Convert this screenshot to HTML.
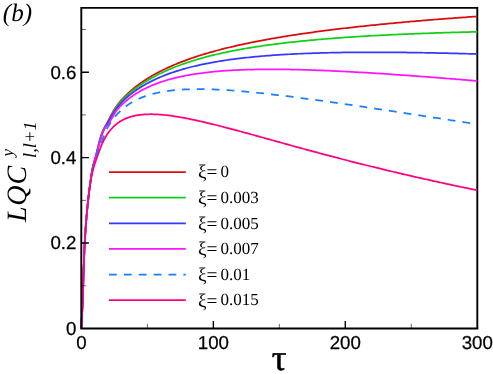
<!DOCTYPE html>
<html><head><meta charset="utf-8"><title>chart</title>
<style>html,body{margin:0;padding:0;background:#fff;}svg{display:block;will-change:transform;}text{text-rendering:geometricPrecision;}</style>
</head><body>
<svg width="493" height="374" viewBox="0 0 493 374">
<rect width="493" height="374" fill="#fff"/>
<path d="M81.3,7.9 H477.3 V328.5" fill="none" stroke="#000" stroke-width="1.9" stroke-linejoin="miter"/>
<g fill="none" stroke-width="1.75" stroke-linejoin="round">
<path d="M81.40,328.50 L81.56,323.72 L81.73,320.11 L81.89,316.98 L82.06,313.94 L82.22,310.77 L82.39,307.32 L82.55,303.54 L82.72,299.38 L82.88,294.83 L83.05,289.89 L83.21,284.57 L83.38,278.96 L83.54,273.31 L83.71,267.87 L83.87,262.81 L84.04,258.23 L84.20,254.10 L84.37,250.33 L84.53,246.87 L84.70,243.65 L84.86,240.62 L85.03,237.76 L85.19,235.05 L85.36,232.45 L85.52,229.98 L85.69,227.61 L85.85,225.34 L86.02,223.15 L86.18,221.04 L86.35,219.01 L86.51,217.05 L86.68,215.15 L86.84,213.30 L87.01,211.51 L87.17,209.77 L87.34,208.08 L87.50,206.42 L87.67,204.81 L87.83,203.24 L88.00,201.70 L88.16,200.19 L88.33,198.71 L88.49,197.26 L88.66,195.84 L88.82,194.44 L88.99,193.06 L89.15,191.71 L89.32,190.38 L89.48,189.07 L89.65,187.77 L89.81,186.50 L89.98,185.24 L90.14,183.99 L90.31,182.76 L90.47,181.55 L90.64,180.35 L90.80,179.16 L90.97,177.99 L91.13,176.84 L91.30,175.71 L91.46,174.63 L91.63,173.58 L91.79,172.57 L91.96,171.61 L92.12,170.69 L92.29,169.83 L92.45,169.02 L92.62,168.25 L92.78,167.53 L92.95,166.84 L93.11,166.17 L93.28,165.54 L93.44,164.92 L93.61,164.32 L93.77,163.74 L93.94,163.17 L94.10,162.61 L94.27,162.05 L94.43,161.50 L94.59,160.94 L95.25,158.68 L95.91,156.26 L96.57,153.60 L97.23,150.72 L97.89,147.79 L98.55,144.92 L99.21,142.22 L99.87,139.74 L100.53,137.47 L101.19,135.39 L101.85,133.50 L102.51,131.78 L103.17,130.23 L103.83,128.83 L104.49,127.57 L105.15,126.40 L105.81,125.26 L106.47,124.09 L107.13,122.87 L107.79,121.62 L108.45,120.35 L109.11,119.07 L109.77,117.80 L110.43,116.53 L111.09,115.27 L111.75,114.04 L112.41,112.84 L113.07,111.67 L113.73,110.55 L114.39,109.46 L115.05,108.42 L115.71,107.41 L116.37,106.45 L117.03,105.52 L117.69,104.62 L118.35,103.76 L119.01,102.92 L119.67,102.11 L120.33,101.32 L120.98,100.55 L121.64,99.80 L122.30,99.07 L122.96,98.36 L123.62,97.67 L124.28,96.98 L124.94,96.32 L125.60,95.66 L126.26,95.02 L126.92,94.39 L127.58,93.76 L128.24,93.15 L128.90,92.55 L129.56,91.95 L130.22,91.37 L130.88,90.79 L131.54,90.22 L132.20,89.66 L132.86,89.11 L133.52,88.57 L134.18,88.03 L134.84,87.50 L135.50,86.98 L136.16,86.46 L136.82,85.96 L137.48,85.45 L138.14,84.96 L138.80,84.47 L139.46,83.99 L140.12,83.51 L140.78,83.04 L141.44,82.58 L142.10,82.12 L142.76,81.67 L143.42,81.22 L144.08,80.78 L144.74,80.34 L145.40,79.91 L146.06,79.48 L146.72,79.06 L147.38,78.65 L148.03,78.23 L148.69,77.83 L149.35,77.42 L150.01,77.02 L150.67,76.63 L151.33,76.24 L151.99,75.85 L152.65,75.47 L153.31,75.10 L153.97,74.72 L154.63,74.35 L155.29,73.99 L155.95,73.62 L156.61,73.27 L157.27,72.91 L157.93,72.56 L158.59,72.21 L159.25,71.87 L159.91,71.53 L160.57,71.19 L162.55,70.19 L164.53,69.23 L166.51,68.29 L168.49,67.37 L170.47,66.48 L172.45,65.61 L174.42,64.77 L176.40,63.94 L178.38,63.14 L180.36,62.35 L182.34,61.59 L184.32,60.84 L186.30,60.10 L188.28,59.39 L190.26,58.69 L192.24,58.00 L194.22,57.33 L196.20,56.67 L198.18,56.03 L200.16,55.40 L202.13,54.78 L204.11,54.18 L206.09,53.58 L208.07,53.00 L210.05,52.43 L212.03,51.87 L214.01,51.32 L215.99,50.78 L217.97,50.25 L219.95,49.73 L221.93,49.21 L223.91,48.71 L225.89,48.22 L227.86,47.73 L229.84,47.25 L231.82,46.78 L233.80,46.32 L235.78,45.86 L237.76,45.41 L239.74,44.97 L241.72,44.54 L243.70,44.11 L245.68,43.69 L247.66,43.27 L249.64,42.86 L251.62,42.46 L253.59,42.06 L255.57,41.67 L257.55,41.28 L259.53,40.90 L261.51,40.53 L263.49,40.15 L265.47,39.79 L267.45,39.43 L269.43,39.07 L271.41,38.72 L273.39,38.37 L275.37,38.03 L277.35,37.69 L279.32,37.36 L281.30,37.03 L283.28,36.71 L285.26,36.38 L287.24,36.07 L289.22,35.75 L291.20,35.44 L293.18,35.14 L295.16,34.83 L297.14,34.53 L299.12,34.24 L301.10,33.95 L303.08,33.66 L305.06,33.37 L307.03,33.09 L309.01,32.81 L310.99,32.53 L312.97,32.26 L314.95,31.99 L316.93,31.72 L318.91,31.46 L320.89,31.19 L322.87,30.93 L324.85,30.68 L326.83,30.42 L328.81,30.17 L330.79,29.92 L332.76,29.68 L334.74,29.43 L336.72,29.19 L338.70,28.95 L340.68,28.72 L342.66,28.48 L344.64,28.25 L346.62,28.02 L348.60,27.79 L350.58,27.57 L352.56,27.34 L354.54,27.12 L356.52,26.90 L358.50,26.69 L360.47,26.47 L362.45,26.26 L364.43,26.04 L366.41,25.83 L368.39,25.63 L370.37,25.42 L372.35,25.22 L374.33,25.01 L376.31,24.81 L378.29,24.62 L380.27,24.42 L382.25,24.22 L384.23,24.03 L386.20,23.84 L388.18,23.65 L390.16,23.46 L392.14,23.27 L394.12,23.08 L396.10,22.90 L398.08,22.72 L400.06,22.53 L402.04,22.35 L404.02,22.18 L406.00,22.00 L407.98,21.82 L409.96,21.65 L411.93,21.48 L413.91,21.30 L415.89,21.13 L417.87,20.96 L419.85,20.80 L421.83,20.63 L423.81,20.46 L425.79,20.30 L427.77,20.14 L429.75,19.98 L431.73,19.82 L433.71,19.66 L435.69,19.50 L437.66,19.34 L439.64,19.19 L441.62,19.03 L443.60,18.88 L445.58,18.72 L447.56,18.57 L449.54,18.42 L451.52,18.27 L453.50,18.12 L455.48,17.98 L457.46,17.83 L459.44,17.69 L461.42,17.54 L463.40,17.40 L465.37,17.26 L467.35,17.11 L469.33,16.97 L471.31,16.84 L473.29,16.70 L475.27,16.56 L477.25,16.42" stroke="#d80c0c"/>
<path d="M81.40,328.50 L81.56,323.70 L81.73,320.08 L81.89,316.96 L82.06,313.93 L82.22,310.76 L82.39,307.33 L82.55,303.56 L82.72,299.40 L82.88,294.86 L83.05,289.92 L83.21,284.60 L83.38,278.97 L83.54,273.32 L83.71,267.87 L83.87,262.79 L84.04,258.21 L84.20,254.06 L84.37,250.29 L84.53,246.81 L84.70,243.59 L84.86,240.57 L85.03,237.71 L85.19,235.00 L85.36,232.41 L85.52,229.95 L85.69,227.59 L85.85,225.32 L86.02,223.15 L86.18,221.05 L86.35,219.03 L86.51,217.08 L86.68,215.19 L86.84,213.36 L87.01,211.57 L87.17,209.84 L87.34,208.15 L87.50,206.51 L87.67,204.90 L87.83,203.33 L88.00,201.79 L88.16,200.29 L88.33,198.81 L88.49,197.36 L88.66,195.93 L88.82,194.53 L88.99,193.15 L89.15,191.80 L89.32,190.46 L89.48,189.14 L89.65,187.83 L89.81,186.55 L89.98,185.28 L90.14,184.02 L90.31,182.78 L90.47,181.55 L90.64,180.33 L90.80,179.12 L90.97,177.93 L91.13,176.77 L91.30,175.63 L91.46,174.52 L91.63,173.46 L91.79,172.44 L91.96,171.47 L92.12,170.54 L92.29,169.68 L92.45,168.87 L92.62,168.10 L92.78,167.38 L92.95,166.69 L93.11,166.04 L93.28,165.41 L93.44,164.81 L93.61,164.23 L93.77,163.66 L93.94,163.11 L94.10,162.56 L94.27,162.02 L94.43,161.49 L94.59,160.95 L95.25,158.77 L95.91,156.44 L96.57,153.86 L97.23,151.06 L97.89,148.16 L98.55,145.28 L99.21,142.51 L99.87,139.92 L100.53,137.51 L101.19,135.32 L101.85,133.33 L102.51,131.57 L103.17,130.04 L103.83,128.73 L104.49,127.66 L105.15,126.75 L105.81,125.90 L106.47,125.01 L107.13,124.00 L107.79,122.90 L108.45,121.71 L109.11,120.47 L109.77,119.19 L110.43,117.89 L111.09,116.59 L111.75,115.29 L112.41,114.02 L113.07,112.77 L113.73,111.56 L114.39,110.40 L115.05,109.30 L115.71,108.24 L116.37,107.25 L117.03,106.29 L117.69,105.38 L118.35,104.51 L119.01,103.68 L119.67,102.87 L120.33,102.10 L120.98,101.36 L121.64,100.64 L122.30,99.94 L122.96,99.26 L123.62,98.60 L124.28,97.96 L124.94,97.33 L125.60,96.72 L126.26,96.12 L126.92,95.53 L127.58,94.95 L128.24,94.38 L128.90,93.81 L129.56,93.25 L130.22,92.70 L130.88,92.16 L131.54,91.63 L132.20,91.10 L132.86,90.58 L133.52,90.06 L134.18,89.55 L134.84,89.05 L135.50,88.55 L136.16,88.06 L136.82,87.58 L137.48,87.10 L138.14,86.63 L138.80,86.17 L139.46,85.71 L140.12,85.25 L140.78,84.80 L141.44,84.36 L142.10,83.92 L142.76,83.48 L143.42,83.05 L144.08,82.63 L144.74,82.21 L145.40,81.80 L146.06,81.39 L146.72,80.98 L147.38,80.58 L148.03,80.19 L148.69,79.79 L149.35,79.41 L150.01,79.02 L150.67,78.64 L151.33,78.27 L151.99,77.90 L152.65,77.53 L153.31,77.17 L153.97,76.81 L154.63,76.45 L155.29,76.10 L155.95,75.75 L156.61,75.41 L157.27,75.07 L157.93,74.73 L158.59,74.40 L159.25,74.07 L159.91,73.74 L160.57,73.42 L162.55,72.46 L164.53,71.54 L166.51,70.64 L168.49,69.77 L170.47,68.92 L172.45,68.10 L174.42,67.30 L176.40,66.52 L178.38,65.76 L180.36,65.02 L182.34,64.30 L184.32,63.60 L186.30,62.92 L188.28,62.25 L190.26,61.61 L192.24,60.97 L194.22,60.36 L196.20,59.76 L198.18,59.17 L200.16,58.60 L202.13,58.04 L204.11,57.50 L206.09,56.96 L208.07,56.44 L210.05,55.94 L212.03,55.44 L214.01,54.96 L215.99,54.48 L217.97,54.02 L219.95,53.57 L221.93,53.13 L223.91,52.69 L225.89,52.27 L227.86,51.86 L229.84,51.45 L231.82,51.06 L233.80,50.67 L235.78,50.29 L237.76,49.92 L239.74,49.55 L241.72,49.20 L243.70,48.85 L245.68,48.51 L247.66,48.17 L249.64,47.84 L251.62,47.52 L253.59,47.21 L255.57,46.90 L257.55,46.59 L259.53,46.30 L261.51,46.00 L263.49,45.72 L265.47,45.44 L267.45,45.16 L269.43,44.89 L271.41,44.62 L273.39,44.36 L275.37,44.11 L277.35,43.86 L279.32,43.61 L281.30,43.37 L283.28,43.13 L285.26,42.90 L287.24,42.67 L289.22,42.44 L291.20,42.22 L293.18,42.01 L295.16,41.79 L297.14,41.58 L299.12,41.38 L301.10,41.17 L303.08,40.98 L305.06,40.78 L307.03,40.59 L309.01,40.40 L310.99,40.21 L312.97,40.03 L314.95,39.85 L316.93,39.67 L318.91,39.50 L320.89,39.33 L322.87,39.16 L324.85,39.00 L326.83,38.84 L328.81,38.68 L330.79,38.52 L332.76,38.36 L334.74,38.21 L336.72,38.06 L338.70,37.92 L340.68,37.77 L342.66,37.63 L344.64,37.49 L346.62,37.35 L348.60,37.22 L350.58,37.08 L352.56,36.95 L354.54,36.82 L356.52,36.70 L358.50,36.57 L360.47,36.45 L362.45,36.33 L364.43,36.21 L366.41,36.09 L368.39,35.98 L370.37,35.86 L372.35,35.75 L374.33,35.64 L376.31,35.54 L378.29,35.43 L380.27,35.32 L382.25,35.22 L384.23,35.12 L386.20,35.02 L388.18,34.92 L390.16,34.83 L392.14,34.73 L394.12,34.64 L396.10,34.55 L398.08,34.46 L400.06,34.37 L402.04,34.28 L404.02,34.19 L406.00,34.11 L407.98,34.02 L409.96,33.94 L411.93,33.86 L413.91,33.78 L415.89,33.70 L417.87,33.63 L419.85,33.55 L421.83,33.48 L423.81,33.40 L425.79,33.33 L427.77,33.26 L429.75,33.19 L431.73,33.12 L433.71,33.05 L435.69,32.99 L437.66,32.92 L439.64,32.86 L441.62,32.79 L443.60,32.73 L445.58,32.67 L447.56,32.61 L449.54,32.55 L451.52,32.49 L453.50,32.44 L455.48,32.38 L457.46,32.33 L459.44,32.27 L461.42,32.22 L463.40,32.17 L465.37,32.11 L467.35,32.06 L469.33,32.01 L471.31,31.96 L473.29,31.92 L475.27,31.87 L477.25,31.82" stroke="#12d016"/>
<path d="M81.40,328.50 L81.56,323.76 L81.73,320.16 L81.89,317.02 L82.06,313.97 L82.22,310.77 L82.39,307.31 L82.55,303.51 L82.72,299.34 L82.88,294.78 L83.05,289.85 L83.21,284.54 L83.38,278.94 L83.54,273.32 L83.71,267.90 L83.87,262.85 L84.04,258.29 L84.20,254.16 L84.37,250.40 L84.53,246.94 L84.70,243.72 L84.86,240.69 L85.03,237.83 L85.19,235.10 L85.36,232.50 L85.52,230.01 L85.69,227.63 L85.85,225.34 L86.02,223.14 L86.18,221.02 L86.35,218.97 L86.51,217.00 L86.68,215.08 L86.84,213.23 L87.01,211.43 L87.17,209.68 L87.34,207.98 L87.50,206.32 L87.67,204.71 L87.83,203.13 L88.00,201.58 L88.16,200.08 L88.33,198.60 L88.49,197.15 L88.66,195.73 L88.82,194.34 L88.99,192.98 L89.15,191.63 L89.32,190.31 L89.48,189.01 L89.65,187.73 L89.81,186.47 L89.98,185.23 L90.14,184.00 L90.31,182.79 L90.47,181.60 L90.64,180.42 L90.80,179.25 L90.97,178.10 L91.13,176.98 L91.30,175.87 L91.46,174.80 L91.63,173.76 L91.79,172.75 L91.96,171.78 L92.12,170.85 L92.29,169.96 L92.45,169.11 L92.62,168.29 L92.78,167.51 L92.95,166.77 L93.11,166.04 L93.28,165.34 L93.44,164.67 L93.61,164.01 L93.77,163.37 L93.94,162.74 L94.10,162.12 L94.27,161.52 L94.43,160.92 L94.59,160.33 L95.25,158.01 L95.91,155.68 L96.57,153.29 L97.23,150.82 L97.89,148.33 L98.55,145.86 L99.21,143.45 L99.87,141.11 L100.53,138.89 L101.19,136.78 L101.85,134.81 L102.51,132.98 L103.17,131.30 L103.83,129.79 L104.49,128.43 L105.15,127.23 L105.81,126.11 L106.47,125.04 L107.13,123.96 L107.79,122.85 L108.45,121.72 L109.11,120.56 L109.77,119.41 L110.43,118.25 L111.09,117.10 L111.75,115.96 L112.41,114.84 L113.07,113.75 L113.73,112.68 L114.39,111.64 L115.05,110.64 L115.71,109.68 L116.37,108.75 L117.03,107.85 L117.69,106.99 L118.35,106.16 L119.01,105.36 L119.67,104.58 L120.33,103.83 L120.98,103.10 L121.64,102.39 L122.30,101.70 L122.96,101.03 L123.62,100.38 L124.28,99.74 L124.94,99.12 L125.60,98.52 L126.26,97.92 L126.92,97.34 L127.58,96.78 L128.24,96.22 L128.90,95.67 L129.56,95.13 L130.22,94.61 L130.88,94.09 L131.54,93.58 L132.20,93.07 L132.86,92.58 L133.52,92.09 L134.18,91.61 L134.84,91.13 L135.50,90.67 L136.16,90.21 L136.82,89.76 L137.48,89.31 L138.14,88.87 L138.80,88.44 L139.46,88.01 L140.12,87.59 L140.78,87.18 L141.44,86.77 L142.10,86.37 L142.76,85.97 L143.42,85.58 L144.08,85.19 L144.74,84.81 L145.40,84.43 L146.06,84.06 L146.72,83.70 L147.38,83.34 L148.03,82.98 L148.69,82.63 L149.35,82.28 L150.01,81.94 L150.67,81.60 L151.33,81.27 L151.99,80.94 L152.65,80.61 L153.31,80.29 L153.97,79.98 L154.63,79.66 L155.29,79.35 L155.95,79.05 L156.61,78.75 L157.27,78.45 L157.93,78.16 L158.59,77.87 L159.25,77.58 L159.91,77.30 L160.57,77.02 L162.55,76.20 L164.53,75.41 L166.51,74.64 L168.49,73.91 L170.47,73.19 L172.45,72.51 L174.42,71.84 L176.40,71.20 L178.38,70.58 L180.36,69.97 L182.34,69.39 L184.32,68.83 L186.30,68.28 L188.28,67.75 L190.26,67.24 L192.24,66.74 L194.22,66.26 L196.20,65.79 L198.18,65.34 L200.16,64.90 L202.13,64.48 L204.11,64.06 L206.09,63.66 L208.07,63.27 L210.05,62.90 L212.03,62.53 L214.01,62.17 L215.99,61.83 L217.97,61.50 L219.95,61.17 L221.93,60.85 L223.91,60.55 L225.89,60.25 L227.86,59.96 L229.84,59.68 L231.82,59.41 L233.80,59.15 L235.78,58.89 L237.76,58.64 L239.74,58.40 L241.72,58.16 L243.70,57.94 L245.68,57.72 L247.66,57.50 L249.64,57.29 L251.62,57.09 L253.59,56.90 L255.57,56.71 L257.55,56.52 L259.53,56.34 L261.51,56.17 L263.49,56.00 L265.47,55.84 L267.45,55.68 L269.43,55.53 L271.41,55.38 L273.39,55.24 L275.37,55.10 L277.35,54.96 L279.32,54.83 L281.30,54.71 L283.28,54.59 L285.26,54.47 L287.24,54.35 L289.22,54.25 L291.20,54.14 L293.18,54.04 L295.16,53.94 L297.14,53.84 L299.12,53.75 L301.10,53.66 L303.08,53.58 L305.06,53.50 L307.03,53.42 L309.01,53.35 L310.99,53.27 L312.97,53.20 L314.95,53.14 L316.93,53.08 L318.91,53.02 L320.89,52.96 L322.87,52.90 L324.85,52.85 L326.83,52.80 L328.81,52.75 L330.79,52.71 L332.76,52.67 L334.74,52.63 L336.72,52.59 L338.70,52.56 L340.68,52.52 L342.66,52.49 L344.64,52.46 L346.62,52.44 L348.60,52.41 L350.58,52.39 L352.56,52.37 L354.54,52.35 L356.52,52.34 L358.50,52.32 L360.47,52.31 L362.45,52.30 L364.43,52.29 L366.41,52.29 L368.39,52.28 L370.37,52.28 L372.35,52.28 L374.33,52.28 L376.31,52.28 L378.29,52.28 L380.27,52.29 L382.25,52.29 L384.23,52.30 L386.20,52.31 L388.18,52.32 L390.16,52.34 L392.14,52.35 L394.12,52.37 L396.10,52.38 L398.08,52.40 L400.06,52.42 L402.04,52.44 L404.02,52.46 L406.00,52.49 L407.98,52.51 L409.96,52.54 L411.93,52.57 L413.91,52.59 L415.89,52.62 L417.87,52.65 L419.85,52.69 L421.83,52.72 L423.81,52.75 L425.79,52.79 L427.77,52.82 L429.75,52.86 L431.73,52.90 L433.71,52.94 L435.69,52.98 L437.66,53.02 L439.64,53.06 L441.62,53.11 L443.60,53.15 L445.58,53.20 L447.56,53.24 L449.54,53.29 L451.52,53.34 L453.50,53.39 L455.48,53.44 L457.46,53.49 L459.44,53.54 L461.42,53.59 L463.40,53.64 L465.37,53.70 L467.35,53.75 L469.33,53.81 L471.31,53.86 L473.29,53.92 L475.27,53.98 L477.25,54.04" stroke="#3737ff"/>
<path d="M81.40,328.50 L81.56,322.68 L81.73,319.08 L81.89,316.44 L82.06,314.01 L82.22,311.35 L82.39,308.21 L82.55,304.44 L82.72,299.97 L82.88,294.87 L83.05,289.39 L83.21,283.79 L83.38,278.24 L83.54,272.85 L83.71,267.74 L83.87,262.94 L84.04,258.52 L84.20,254.44 L84.37,250.65 L84.53,247.13 L84.70,243.84 L84.86,240.74 L85.03,237.83 L85.19,235.08 L85.36,232.47 L85.52,229.99 L85.69,227.62 L85.85,225.35 L86.02,223.17 L86.18,221.08 L86.35,219.06 L86.51,217.10 L86.68,215.21 L86.84,213.37 L87.01,211.58 L87.17,209.84 L87.34,208.14 L87.50,206.47 L87.67,204.84 L87.83,203.24 L88.00,201.66 L88.16,200.11 L88.33,198.59 L88.49,197.09 L88.66,195.61 L88.82,194.16 L88.99,192.74 L89.15,191.35 L89.32,189.98 L89.48,188.64 L89.65,187.33 L89.81,186.04 L89.98,184.79 L90.14,183.57 L90.31,182.37 L90.47,181.21 L90.64,180.07 L90.80,178.96 L90.97,177.88 L91.13,176.83 L91.30,175.81 L91.46,174.82 L91.63,173.86 L91.79,172.92 L91.96,172.01 L92.12,171.13 L92.29,170.27 L92.45,169.45 L92.62,168.64 L92.78,167.86 L92.95,167.10 L93.11,166.36 L93.28,165.63 L93.44,164.92 L93.61,164.23 L93.77,163.55 L93.94,162.89 L94.10,162.23 L94.27,161.59 L94.43,160.96 L94.59,160.34 L95.25,157.92 L95.91,155.59 L96.57,153.32 L97.23,151.07 L97.89,148.82 L98.55,146.56 L99.21,144.27 L99.87,141.95 L100.53,139.63 L101.19,137.37 L101.85,135.25 L102.51,133.28 L103.17,131.52 L103.83,129.99 L104.49,128.72 L105.15,127.70 L105.81,126.89 L106.47,126.19 L107.13,125.50 L107.79,124.77 L108.45,123.93 L109.11,122.97 L109.77,121.92 L110.43,120.80 L111.09,119.64 L111.75,118.46 L112.41,117.27 L113.07,116.09 L113.73,114.93 L114.39,113.81 L115.05,112.74 L115.71,111.73 L116.37,110.78 L117.03,109.90 L117.69,109.08 L118.35,108.32 L119.01,107.60 L119.67,106.91 L120.33,106.24 L120.98,105.58 L121.64,104.94 L122.30,104.30 L122.96,103.69 L123.62,103.08 L124.28,102.49 L124.94,101.91 L125.60,101.34 L126.26,100.78 L126.92,100.24 L127.58,99.70 L128.24,99.18 L128.90,98.66 L129.56,98.16 L130.22,97.66 L130.88,97.18 L131.54,96.70 L132.20,96.23 L132.86,95.77 L133.52,95.32 L134.18,94.88 L134.84,94.44 L135.50,94.01 L136.16,93.59 L136.82,93.18 L137.48,92.78 L138.14,92.38 L138.80,91.99 L139.46,91.60 L140.12,91.23 L140.78,90.85 L141.44,90.49 L142.10,90.13 L142.76,89.78 L143.42,89.43 L144.08,89.09 L144.74,88.76 L145.40,88.43 L146.06,88.10 L146.72,87.79 L147.38,87.47 L148.03,87.16 L148.69,86.86 L149.35,86.56 L150.01,86.27 L150.67,85.98 L151.33,85.70 L151.99,85.42 L152.65,85.14 L153.31,84.87 L153.97,84.60 L154.63,84.34 L155.29,84.08 L155.95,83.83 L156.61,83.58 L157.27,83.33 L157.93,83.09 L158.59,82.85 L159.25,82.62 L159.91,82.38 L160.57,82.16 L162.55,81.49 L164.53,80.86 L166.51,80.26 L168.49,79.68 L170.47,79.13 L172.45,78.60 L174.42,78.10 L176.40,77.62 L178.38,77.16 L180.36,76.72 L182.34,76.30 L184.32,75.90 L186.30,75.51 L188.28,75.15 L190.26,74.80 L192.24,74.46 L194.22,74.15 L196.20,73.84 L198.18,73.55 L200.16,73.28 L202.13,73.01 L204.11,72.76 L206.09,72.52 L208.07,72.29 L210.05,72.08 L212.03,71.87 L214.01,71.68 L215.99,71.49 L217.97,71.32 L219.95,71.15 L221.93,70.99 L223.91,70.84 L225.89,70.70 L227.86,70.57 L229.84,70.45 L231.82,70.33 L233.80,70.23 L235.78,70.12 L237.76,70.03 L239.74,69.94 L241.72,69.86 L243.70,69.79 L245.68,69.72 L247.66,69.66 L249.64,69.60 L251.62,69.55 L253.59,69.51 L255.57,69.47 L257.55,69.43 L259.53,69.40 L261.51,69.38 L263.49,69.36 L265.47,69.35 L267.45,69.33 L269.43,69.33 L271.41,69.33 L273.39,69.33 L275.37,69.34 L277.35,69.35 L279.32,69.36 L281.30,69.38 L283.28,69.40 L285.26,69.43 L287.24,69.46 L289.22,69.49 L291.20,69.53 L293.18,69.56 L295.16,69.61 L297.14,69.65 L299.12,69.70 L301.10,69.75 L303.08,69.81 L305.06,69.86 L307.03,69.92 L309.01,69.98 L310.99,70.05 L312.97,70.12 L314.95,70.19 L316.93,70.26 L318.91,70.33 L320.89,70.41 L322.87,70.49 L324.85,70.57 L326.83,70.66 L328.81,70.74 L330.79,70.83 L332.76,70.92 L334.74,71.01 L336.72,71.11 L338.70,71.20 L340.68,71.30 L342.66,71.40 L344.64,71.50 L346.62,71.60 L348.60,71.71 L350.58,71.81 L352.56,71.92 L354.54,72.03 L356.52,72.14 L358.50,72.26 L360.47,72.37 L362.45,72.48 L364.43,72.60 L366.41,72.72 L368.39,72.84 L370.37,72.96 L372.35,73.08 L374.33,73.21 L376.31,73.33 L378.29,73.46 L380.27,73.59 L382.25,73.72 L384.23,73.85 L386.20,73.98 L388.18,74.11 L390.16,74.24 L392.14,74.38 L394.12,74.51 L396.10,74.65 L398.08,74.79 L400.06,74.92 L402.04,75.06 L404.02,75.20 L406.00,75.34 L407.98,75.49 L409.96,75.63 L411.93,75.77 L413.91,75.92 L415.89,76.06 L417.87,76.21 L419.85,76.36 L421.83,76.51 L423.81,76.66 L425.79,76.81 L427.77,76.96 L429.75,77.11 L431.73,77.26 L433.71,77.41 L435.69,77.57 L437.66,77.72 L439.64,77.87 L441.62,78.03 L443.60,78.19 L445.58,78.34 L447.56,78.50 L449.54,78.66 L451.52,78.82 L453.50,78.97 L455.48,79.13 L457.46,79.29 L459.44,79.46 L461.42,79.62 L463.40,79.78 L465.37,79.94 L467.35,80.10 L469.33,80.27 L471.31,80.43 L473.29,80.59 L475.27,80.76 L477.25,80.92" stroke="#ff14ff"/>
<path d="M81.40,328.50 L81.56,323.93 L81.73,320.37 L81.89,317.20 L82.06,314.07 L82.22,310.79 L82.39,307.25 L82.55,303.39 L82.72,299.17 L82.88,294.60 L83.05,289.66 L83.21,284.38 L83.38,278.83 L83.54,273.27 L83.71,267.93 L83.87,262.96 L84.04,258.48 L84.20,254.43 L84.37,250.73 L84.53,247.31 L84.70,244.12 L84.86,241.10 L85.03,238.21 L85.19,235.45 L85.36,232.80 L85.52,230.25 L85.69,227.79 L85.85,225.43 L86.02,223.15 L86.18,220.95 L86.35,218.83 L86.51,216.77 L86.68,214.78 L86.84,212.86 L87.01,211.00 L87.17,209.19 L87.34,207.44 L87.50,205.73 L87.67,204.08 L87.83,202.47 L88.00,200.91 L88.16,199.38 L88.33,197.90 L88.49,196.46 L88.66,195.05 L88.82,193.68 L88.99,192.34 L89.15,191.04 L89.32,189.77 L89.48,188.52 L89.65,187.31 L89.81,186.12 L89.98,184.96 L90.14,183.82 L90.31,182.71 L90.47,181.62 L90.64,180.56 L90.80,179.51 L90.97,178.49 L91.13,177.49 L91.30,176.51 L91.46,175.56 L91.63,174.62 L91.79,173.70 L91.96,172.80 L92.12,171.92 L92.29,171.06 L92.45,170.22 L92.62,169.39 L92.78,168.58 L92.95,167.79 L93.11,167.02 L93.28,166.27 L93.44,165.53 L93.61,164.80 L93.77,164.09 L93.94,163.40 L94.10,162.73 L94.27,162.07 L94.43,161.42 L94.59,160.79 L95.25,158.40 L95.91,156.22 L96.57,154.25 L97.23,152.44 L97.89,150.77 L98.55,149.16 L99.21,147.60 L99.87,146.05 L100.53,144.48 L101.19,142.88 L101.85,141.22 L102.51,139.54 L103.17,137.85 L103.83,136.18 L104.49,134.55 L105.15,132.97 L105.81,131.45 L106.47,130.01 L107.13,128.66 L107.79,127.39 L108.45,126.20 L109.11,125.07 L109.77,123.99 L110.43,122.96 L111.09,121.96 L111.75,121.00 L112.41,120.07 L113.07,119.18 L113.73,118.31 L114.39,117.47 L115.05,116.66 L115.71,115.87 L116.37,115.11 L117.03,114.37 L117.69,113.66 L118.35,112.97 L119.01,112.29 L119.67,111.64 L120.33,111.01 L120.98,110.39 L121.64,109.80 L122.30,109.21 L122.96,108.65 L123.62,108.10 L124.28,107.57 L124.94,107.05 L125.60,106.54 L126.26,106.05 L126.92,105.57 L127.58,105.10 L128.24,104.65 L128.90,104.21 L129.56,103.78 L130.22,103.36 L130.88,102.95 L131.54,102.55 L132.20,102.16 L132.86,101.78 L133.52,101.41 L134.18,101.06 L134.84,100.70 L135.50,100.36 L136.16,100.03 L136.82,99.71 L137.48,99.39 L138.14,99.08 L138.80,98.78 L139.46,98.49 L140.12,98.20 L140.78,97.92 L141.44,97.65 L142.10,97.39 L142.76,97.13 L143.42,96.88 L144.08,96.63 L144.74,96.39 L145.40,96.16 L146.06,95.93 L146.72,95.71 L147.38,95.49 L148.03,95.28 L148.69,95.07 L149.35,94.87 L150.01,94.68 L150.67,94.49 L151.33,94.30 L151.99,94.12 L152.65,93.95 L153.31,93.77 L153.97,93.61 L154.63,93.44 L155.29,93.29 L155.95,93.13 L156.61,92.98 L157.27,92.83 L157.93,92.69 L158.59,92.55 L159.25,92.42 L159.91,92.29 L160.57,92.16 L162.55,91.80 L164.53,91.47 L166.51,91.16 L168.49,90.89 L170.47,90.64 L172.45,90.41 L174.42,90.20 L176.40,90.02 L178.38,89.86 L180.36,89.71 L182.34,89.59 L184.32,89.48 L186.30,89.39 L188.28,89.31 L190.26,89.25 L192.24,89.21 L194.22,89.17 L196.20,89.16 L198.18,89.15 L200.16,89.15 L202.13,89.17 L204.11,89.20 L206.09,89.23 L208.07,89.28 L210.05,89.34 L212.03,89.41 L214.01,89.48 L215.99,89.57 L217.97,89.66 L219.95,89.76 L221.93,89.86 L223.91,89.98 L225.89,90.10 L227.86,90.23 L229.84,90.36 L231.82,90.50 L233.80,90.65 L235.78,90.80 L237.76,90.96 L239.74,91.12 L241.72,91.29 L243.70,91.46 L245.68,91.64 L247.66,91.82 L249.64,92.01 L251.62,92.20 L253.59,92.40 L255.57,92.59 L257.55,92.80 L259.53,93.00 L261.51,93.21 L263.49,93.43 L265.47,93.64 L267.45,93.86 L269.43,94.09 L271.41,94.31 L273.39,94.54 L275.37,94.77 L277.35,95.01 L279.32,95.24 L281.30,95.48 L283.28,95.72 L285.26,95.97 L287.24,96.21 L289.22,96.46 L291.20,96.71 L293.18,96.97 L295.16,97.22 L297.14,97.48 L299.12,97.74 L301.10,98.00 L303.08,98.26 L305.06,98.52 L307.03,98.79 L309.01,99.05 L310.99,99.32 L312.97,99.59 L314.95,99.86 L316.93,100.14 L318.91,100.41 L320.89,100.69 L322.87,100.96 L324.85,101.24 L326.83,101.52 L328.81,101.80 L330.79,102.08 L332.76,102.36 L334.74,102.65 L336.72,102.93 L338.70,103.21 L340.68,103.50 L342.66,103.79 L344.64,104.07 L346.62,104.36 L348.60,104.65 L350.58,104.94 L352.56,105.23 L354.54,105.53 L356.52,105.82 L358.50,106.11 L360.47,106.40 L362.45,106.70 L364.43,106.99 L366.41,107.29 L368.39,107.58 L370.37,107.88 L372.35,108.18 L374.33,108.47 L376.31,108.77 L378.29,109.07 L380.27,109.37 L382.25,109.67 L384.23,109.97 L386.20,110.27 L388.18,110.57 L390.16,110.87 L392.14,111.17 L394.12,111.47 L396.10,111.77 L398.08,112.08 L400.06,112.38 L402.04,112.68 L404.02,112.98 L406.00,113.29 L407.98,113.59 L409.96,113.89 L411.93,114.20 L413.91,114.50 L415.89,114.80 L417.87,115.11 L419.85,115.41 L421.83,115.72 L423.81,116.02 L425.79,116.33 L427.77,116.63 L429.75,116.94 L431.73,117.24 L433.71,117.55 L435.69,117.85 L437.66,118.16 L439.64,118.46 L441.62,118.77 L443.60,119.07 L445.58,119.38 L447.56,119.68 L449.54,119.99 L451.52,120.29 L453.50,120.60 L455.48,120.91 L457.46,121.21 L459.44,121.52 L461.42,121.82 L463.40,122.13 L465.37,122.43 L467.35,122.74 L469.33,123.04 L471.31,123.35 L473.29,123.65 L475.27,123.96 L477.25,124.27" stroke="#1480ff" stroke-dasharray="7.8 7.08" stroke-dashoffset="5.83"/>
<path d="M81.40,328.50 L81.56,324.19 L81.73,320.67 L81.89,317.42 L82.06,314.16 L82.22,310.74 L82.39,307.09 L82.55,303.15 L82.72,298.92 L82.88,294.38 L83.05,289.55 L83.21,284.42 L83.38,279.07 L83.54,273.70 L83.71,268.46 L83.87,263.48 L84.04,258.86 L84.20,254.58 L84.37,250.62 L84.53,246.95 L84.70,243.55 L84.86,240.39 L85.03,237.46 L85.19,234.72 L85.36,232.15 L85.52,229.73 L85.69,227.42 L85.85,225.22 L86.02,223.10 L86.18,221.05 L86.35,219.06 L86.51,217.12 L86.68,215.22 L86.84,213.36 L87.01,211.55 L87.17,209.78 L87.34,208.05 L87.50,206.36 L87.67,204.71 L87.83,203.09 L88.00,201.51 L88.16,199.96 L88.33,198.45 L88.49,196.97 L88.66,195.53 L88.82,194.13 L88.99,192.76 L89.15,191.43 L89.32,190.14 L89.48,188.88 L89.65,187.66 L89.81,186.48 L89.98,185.34 L90.14,184.24 L90.31,183.17 L90.47,182.14 L90.64,181.14 L90.80,180.19 L90.97,179.27 L91.13,178.38 L91.30,177.52 L91.46,176.69 L91.63,175.89 L91.79,175.11 L91.96,174.35 L92.12,173.62 L92.29,172.91 L92.45,172.22 L92.62,171.54 L92.78,170.89 L92.95,170.24 L93.11,169.62 L93.28,169.00 L93.44,168.40 L93.61,167.81 L93.77,167.24 L93.94,166.67 L94.10,166.11 L94.27,165.57 L94.43,165.03 L94.59,164.49 L95.25,162.43 L95.91,160.45 L96.57,158.53 L97.23,156.65 L97.89,154.79 L98.55,152.95 L99.21,151.15 L99.87,149.38 L100.53,147.68 L101.19,146.04 L101.85,144.47 L102.51,142.98 L103.17,141.56 L103.83,140.22 L104.49,138.95 L105.15,137.75 L105.81,136.61 L106.47,135.52 L107.13,134.49 L107.79,133.50 L108.45,132.57 L109.11,131.67 L109.77,130.82 L110.43,130.01 L111.09,129.23 L111.75,128.49 L112.41,127.79 L113.07,127.11 L113.73,126.46 L114.39,125.84 L115.05,125.25 L115.71,124.69 L116.37,124.14 L117.03,123.63 L117.69,123.13 L118.35,122.65 L119.01,122.20 L119.67,121.77 L120.33,121.35 L120.98,120.95 L121.64,120.57 L122.30,120.21 L122.96,119.86 L123.62,119.53 L124.28,119.21 L124.94,118.90 L125.60,118.61 L126.26,118.34 L126.92,118.07 L127.58,117.82 L128.24,117.58 L128.90,117.35 L129.56,117.13 L130.22,116.92 L130.88,116.72 L131.54,116.54 L132.20,116.36 L132.86,116.19 L133.52,116.03 L134.18,115.88 L134.84,115.73 L135.50,115.60 L136.16,115.47 L136.82,115.35 L137.48,115.23 L138.14,115.13 L138.80,115.03 L139.46,114.94 L140.12,114.85 L140.78,114.77 L141.44,114.70 L142.10,114.63 L142.76,114.57 L143.42,114.52 L144.08,114.46 L144.74,114.42 L145.40,114.38 L146.06,114.35 L146.72,114.32 L147.38,114.29 L148.03,114.27 L148.69,114.26 L149.35,114.25 L150.01,114.24 L150.67,114.24 L151.33,114.24 L151.99,114.24 L152.65,114.25 L153.31,114.27 L153.97,114.28 L154.63,114.30 L155.29,114.33 L155.95,114.36 L156.61,114.39 L157.27,114.42 L157.93,114.46 L158.59,114.50 L159.25,114.55 L159.91,114.59 L160.57,114.64 L162.55,114.81 L164.53,115.00 L166.51,115.22 L168.49,115.45 L170.47,115.71 L172.45,115.98 L174.42,116.27 L176.40,116.58 L178.38,116.90 L180.36,117.24 L182.34,117.59 L184.32,117.95 L186.30,118.33 L188.28,118.71 L190.26,119.11 L192.24,119.52 L194.22,119.94 L196.20,120.36 L198.18,120.80 L200.16,121.24 L202.13,121.69 L204.11,122.15 L206.09,122.61 L208.07,123.08 L210.05,123.56 L212.03,124.04 L214.01,124.52 L215.99,125.02 L217.97,125.51 L219.95,126.01 L221.93,126.52 L223.91,127.03 L225.89,127.54 L227.86,128.06 L229.84,128.58 L231.82,129.11 L233.80,129.63 L235.78,130.16 L237.76,130.69 L239.74,131.23 L241.72,131.77 L243.70,132.31 L245.68,132.85 L247.66,133.39 L249.64,133.93 L251.62,134.48 L253.59,135.03 L255.57,135.58 L257.55,136.12 L259.53,136.67 L261.51,137.22 L263.49,137.77 L265.47,138.33 L267.45,138.88 L269.43,139.43 L271.41,139.98 L273.39,140.53 L275.37,141.08 L277.35,141.63 L279.32,142.18 L281.30,142.73 L283.28,143.28 L285.26,143.83 L287.24,144.38 L289.22,144.92 L291.20,145.47 L293.18,146.01 L295.16,146.56 L297.14,147.10 L299.12,147.64 L301.10,148.18 L303.08,148.72 L305.06,149.26 L307.03,149.80 L309.01,150.34 L310.99,150.87 L312.97,151.41 L314.95,151.94 L316.93,152.47 L318.91,153.00 L320.89,153.53 L322.87,154.06 L324.85,154.58 L326.83,155.11 L328.81,155.63 L330.79,156.15 L332.76,156.67 L334.74,157.19 L336.72,157.70 L338.70,158.22 L340.68,158.73 L342.66,159.24 L344.64,159.75 L346.62,160.26 L348.60,160.77 L350.58,161.28 L352.56,161.78 L354.54,162.28 L356.52,162.78 L358.50,163.28 L360.47,163.78 L362.45,164.28 L364.43,164.77 L366.41,165.26 L368.39,165.75 L370.37,166.24 L372.35,166.73 L374.33,167.22 L376.31,167.70 L378.29,168.18 L380.27,168.66 L382.25,169.14 L384.23,169.62 L386.20,170.10 L388.18,170.57 L390.16,171.04 L392.14,171.51 L394.12,171.98 L396.10,172.45 L398.08,172.92 L400.06,173.38 L402.04,173.84 L404.02,174.30 L406.00,174.76 L407.98,175.22 L409.96,175.68 L411.93,176.13 L413.91,176.59 L415.89,177.04 L417.87,177.49 L419.85,177.94 L421.83,178.38 L423.81,178.83 L425.79,179.27 L427.77,179.71 L429.75,180.15 L431.73,180.59 L433.71,181.03 L435.69,181.47 L437.66,181.90 L439.64,182.33 L441.62,182.76 L443.60,183.19 L445.58,183.62 L447.56,184.05 L449.54,184.47 L451.52,184.90 L453.50,185.32 L455.48,185.74 L457.46,186.16 L459.44,186.58 L461.42,186.99 L463.40,187.41 L465.37,187.82 L467.35,188.23 L469.33,188.64 L471.31,189.05 L473.29,189.46 L475.27,189.87 L477.25,190.27" stroke="#ff0080"/>
</g>
<g fill="none" stroke-width="1.75">
<path d="M109,172 H185.8" stroke="#d80c0c"/>
<path d="M109,197.7 H185.8" stroke="#12d016"/>
<path d="M109,223.3 H185.8" stroke="#3737ff"/>
<path d="M109,248.9 H185.8" stroke="#ff14ff"/>
<path d="M109,274.5 H185.8" stroke="#1480ff" stroke-dasharray="7.8 7.08"/>
<path d="M109,300.1 H185.8" stroke="#ff0080"/>
</g>
<path d="M81.3,6.9 V328.5 H478.3" fill="none" stroke="#000" stroke-width="1.9" stroke-linejoin="miter"/>
<path d="M213.35,328.5 v-7.5 M345.30,328.5 v-7.5 M81.3,243.06 h7.6 M81.3,157.62 h7.6 M81.3,72.18 h7.6" stroke="#000" stroke-width="1.4" fill="none"/>
<path d="M147.38,328.5 v-4.6 M279.32,328.5 v-4.6 M411.27,328.5 v-4.6 M81.3,285.78 h4.6 M81.3,200.34 h4.6 M81.3,114.90 h4.6 M81.3,29.46 h4.6" stroke="#000" stroke-width="0.6" fill="none"/>
<g font-family="'Liberation Sans', sans-serif" font-size="18.7" fill="#000" stroke="#000" stroke-width="0.25">
<text x="76.4" y="334.90" text-anchor="end">0</text>
<text x="76.4" y="249.46" text-anchor="end">0.2</text>
<text x="76.4" y="164.02" text-anchor="end">0.4</text>
<text x="76.4" y="78.58" text-anchor="end">0.6</text>
<text x="81.40" y="348.7" text-anchor="middle">0</text>
<text x="213.35" y="348.7" text-anchor="middle">100</text>
<text x="345.30" y="348.7" text-anchor="middle">200</text>
<text x="477.25" y="348.7" text-anchor="middle">300</text>
</g>
<g font-family="'Liberation Serif', serif" fill="#000">
<text x="2.8" y="20.9" font-size="25.1" font-style="italic">(b)</text>
<text x="279" y="370.2" font-size="36.5" text-anchor="middle" stroke="#000" stroke-width="0.55">τ</text>
<text x="197.9" y="178.40" font-size="19.3">ξ=</text><text x="220.45" y="177.20" font-size="17">0</text>
<text x="197.9" y="204.10" font-size="19.3">ξ=</text><text x="220.45" y="202.90" font-size="17">0.003</text>
<text x="197.9" y="229.70" font-size="19.3">ξ=</text><text x="220.45" y="228.50" font-size="17">0.005</text>
<text x="197.9" y="255.30" font-size="19.3">ξ=</text><text x="220.45" y="254.10" font-size="17">0.007</text>
<text x="197.9" y="280.90" font-size="19.3">ξ=</text><text x="220.45" y="279.70" font-size="17">0.01</text>
<text x="197.9" y="306.50" font-size="19.3">ξ=</text><text x="220.45" y="305.30" font-size="17">0.015</text>
<g transform="rotate(-90)" font-style="italic">
<text x="-222" y="26.2" font-size="28" letter-spacing="0.8">LQC</text>
<text x="-156.6" y="12.6" font-size="17">y</text>
<text x="-158" y="36" font-size="18.5">l,l+1</text>
</g>
</g>
</svg>
</body></html>
